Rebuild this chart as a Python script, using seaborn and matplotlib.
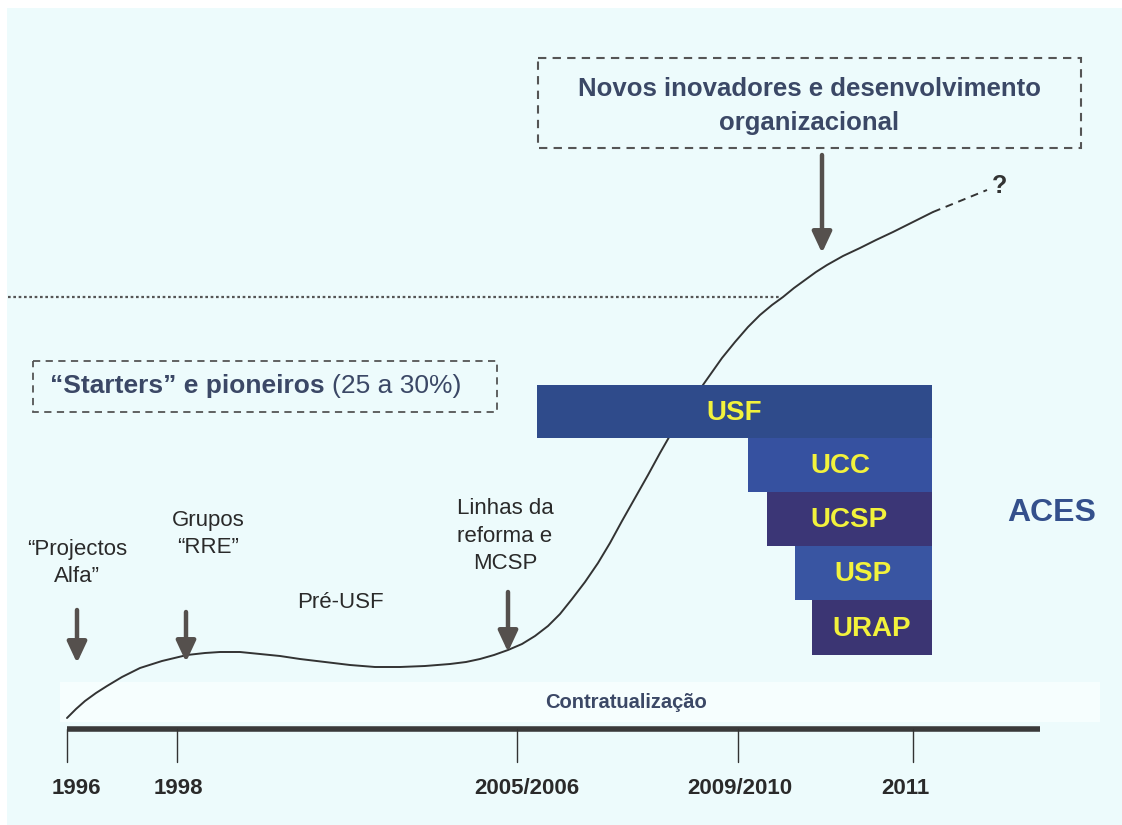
import matplotlib
matplotlib.use('Agg')
import matplotlib.pyplot as plt
from matplotlib.patches import Rectangle
import seaborn as sns

# S-curve of the reform (pixel units, y grows downward)
curve_x = [67, 76, 85, 96, 107, 122, 140, 162, 187, 205, 220, 240, 260, 280, 300, 325, 350,
           375, 400, 425, 450, 466, 480, 494, 508, 522, 535, 548, 560, 572, 585, 598,
           610, 622, 635, 648, 660, 672, 685, 698, 710, 722, 735, 748, 760, 772, 783,
           794, 805, 816, 827, 843, 860, 876, 893, 913, 933]
curve_y = [718, 709, 701, 693, 686, 677, 668, 661, 655, 653, 652, 652, 654, 656, 659, 662, 665,
           667, 667, 666, 664, 662, 659, 655, 650, 644, 636, 626, 614, 599, 582, 563,
           543, 521, 498, 475, 453, 432, 411, 392, 375, 358, 342, 327, 315, 305, 297,
           288, 280, 272, 265, 256, 248, 240, 232, 222, 212]
future_x = [933, 960, 987]
future_y = [212, 201, 190]

years = ['1996', '1998', '2005/2006', '2009/2010', '2011']
year_x = [67, 177, 517, 738, 913]

units = ['USF', 'UCC', 'UCSP', 'USP', 'URAP']
unit_start = [537, 748, 767, 795, 812]
unit_end = [932, 932, 932, 932, 932]
unit_edges = [385, 438, 492, 546, 600, 655]
unit_colors = ['#2f4b8b', '#3651a0', '#3b3676', '#3955a2', '#3b3573']

events = ['\u201cProjectos\nAlfa\u201d', 'Grupos\n\u201cRRE\u201d', 'Linhas da\nreforma e\nMCSP']

sns.set_theme(style='white')
plt.rcParams['font.family'] = ['Liberation Sans', 'DejaVu Sans']

fig = plt.figure(figsize=(11.22, 8.25), dpi=100, facecolor='white')
ax = fig.add_axes([7 / 1122, 0, 1115 / 1122, 817 / 825])
ax.set_facecolor('#edfbfc')
ax.set_xlim(7, 1122)
ax.set_ylim(825, 8)
ax.set_xticks([])
ax.set_yticks([])
for s in ax.spines.values():
    s.set_visible(False)

# lighter band behind "Contratualização"
ax.add_patch(Rectangle((60, 682), 1040, 40, color='#f6fefe', lw=0, zorder=0))

# curve
sns.lineplot(x=curve_x, y=curve_y, ax=ax, color='#333333', lw=1.4, sort=False, estimator=None)
sns.lineplot(x=future_x, y=future_y, ax=ax, color='#333333', lw=1.4, sort=False,
             estimator=None, linestyle=(0, (4, 3)))
ax.text(1000, 186, '?', ha='center', va='center', fontsize=18, fontweight='bold', color='#333333')

# dotted threshold line
ax.plot([8, 781], [297, 297], color='#555555', lw=1.6, linestyle=(0, (1.2, 1.2)))

# timeline
ax.plot([67, 1040], [729, 729], color='#3a3a3a', lw=4, solid_capstyle='butt')
for x in year_x:
    ax.plot([x, x], [729, 762], color='#333333', lw=1)
label_x = [76, 178, 527, 740, 905]
for x, lab in zip(label_x, years):
    ax.text(x, 788, lab, ha='center', va='center', fontsize=16, fontweight='bold',
            color='#2a2a2a')
ax.text(626, 702, 'Contratualização', ha='center', va='center', fontsize=14.5,
        fontweight='bold', color='#3b4866')

# ACES stacked bars
for i, lab in enumerate(units):
    top, bot = unit_edges[i], unit_edges[i + 1]
    ax.barh((top + bot) / 2, unit_end[i] - unit_start[i], left=unit_start[i],
            height=bot - top, color=unit_colors[i], zorder=3, lw=0)
    ax.text((unit_start[i] + unit_end[i]) / 2, (top + bot) / 2 + 1, lab, ha='center',
            va='center', fontsize=20, fontweight='bold', color='#f2f23c', zorder=4)
ax.text(1052, 513, 'ACES', ha='center', va='center', fontsize=23, fontweight='bold',
        color='#34508c')

# arrows
arrow_kw = dict(arrowstyle='-|>,head_length=0.9,head_width=0.42', lw=3.2,
                color='#55504d', mutation_scale=14, shrinkA=0, shrinkB=0)
for (x, y0, y1) in [(77, 610, 663), (186, 612, 662), (508, 592, 652), (822, 155, 253)]:
    ax.annotate('', xy=(x, y1), xytext=(x, y0), arrowprops=arrow_kw)

# event labels
ax.text(77, 563, events[0], ha='center', va='center', fontsize=16, color='#2a2a2a',
        linespacing=1.4)
ax.text(208, 534, events[1], ha='center', va='center', fontsize=16, color='#2a2a2a',
        linespacing=1.4)
ax.text(505, 536, events[2], ha='center', va='center', fontsize=16, color='#2a2a2a',
        linespacing=1.4)
ax.text(340, 602, 'Pré-USF', ha='center', va='center', fontsize=16, color='#2a2a2a')

# dashed boxes
ax.add_patch(Rectangle((538, 58), 543, 90, fill=False, ec='#555555', lw=1.5,
                       linestyle=(0, (4, 3))))
ax.text(809, 106, 'Novos inovadores e desenvolvimento\norganizacional', ha='center',
        va='center', fontsize=18.5, fontweight='bold', color='#3b4866', linespacing=1.55)
ax.add_patch(Rectangle((33, 361), 464, 51, fill=False, ec='#555555', lw=1.3,
                       linestyle=(0, (4, 3))))
t = ax.text(50, 386, '\u201cStarters\u201d e pioneiros ', ha='left', va='center',
            fontsize=19, fontweight='bold', color='#3b4866')
ax.annotate('(25 a 30%)', xycoords=t, xy=(1, 0.5), va='center', ha='left',
            fontsize=19, color='#3b4866')

fig.savefig('out.png', dpi=100, facecolor='white')
